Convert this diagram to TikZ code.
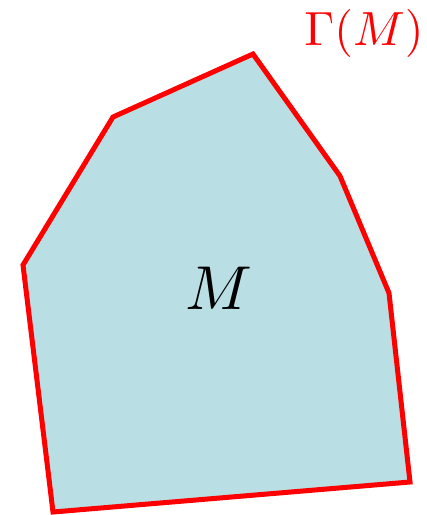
\documentclass[tikz,border=0pt]{standalone}
\usepackage{graphicx}
\begin{document}
\begin{tikzpicture}[x=1pt,y=-1pt,
  region/.style={draw=red,fill={rgb,255:red,185;green,223;blue,228},line width=5pt,line join=miter},
  lbl/.style={inner sep=0pt}]
\useasboundingbox (0,0) rectangle (427,515);
\path[region] (53,512) -- (410,482) -- (389,293) -- (340,176) -- (253,54) -- (113,117) -- (23,265) -- cycle;
\node[lbl] (m) at (219,288) {\scalebox{6.2}{$M$}};
\node[lbl,text=red] (g) at (364,33) {\scalebox{4.8}{$\Gamma(M)$}};
\end{tikzpicture}
\end{document}
